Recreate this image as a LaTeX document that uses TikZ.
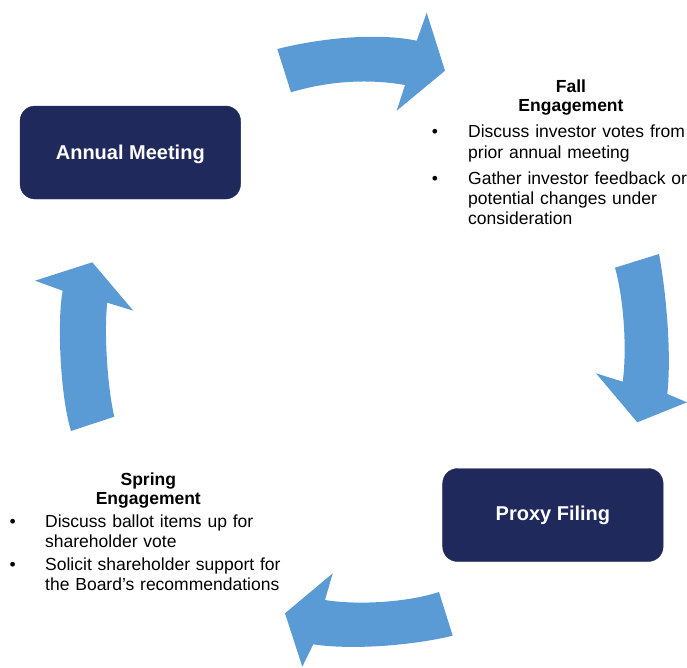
\documentclass[tikz,border=0pt]{standalone}
\usepackage{fontspec}
\setmainfont{Liberation Sans}
\definecolor{navy}{RGB}{31,41,91}
\definecolor{flowblue}{RGB}{91,155,213}
\begin{document}
\begin{tikzpicture}[x=1pt,y=-1pt,
  stage/.style={fill=navy,draw=navy,rounded corners=15pt,minimum width=220.5pt,
    minimum height=93pt,text=white,font=\fontsize{20}{24}\selectfont\bfseries,inner sep=0pt},
  flow/.style={fill=flowblue,draw=none},
  heading/.style={font=\fontsize{17.5}{19.6}\selectfont\bfseries,text width=200pt,
    align=center,inner sep=0pt,anchor=base},
  item/.style={font=\fontsize{17.5}{20.4}\selectfont,text width=240pt,align=left,
    inner sep=0pt,anchor=base west},
  dot/.style={font=\fontsize{17.5}{20.4}\selectfont,inner sep=0pt,anchor=base}]
\useasboundingbox (0,0) rectangle (687,667);

% circular flow arrows
\fill[flow] (277.3,49) .. controls (325,37) and (380,33) .. (416.7,40.7)
  -- (426.7,12.7) -- (445,70.7) -- (396.7,110.7) -- (405,85)
  .. controls (365,78) and (325,82) .. (291,92.3) -- cycle;
\fill[flow] (615,267.7) -- (659,254)
  .. controls (665,285) and (672,350) .. (667.3,394)
  -- (687,402.3) -- (637.3,422.3) -- (596,373.3) -- (622.7,381.7)
  .. controls (627,350) and (624,300) .. cycle;
\fill[flow] (439,592) -- (452.7,635.7)
  .. controls (410,646) and (350,650) .. (313.3,644.3)
  -- (302.3,666.7) -- (285,613.3) -- (332.7,573.3) -- (325,600)
  .. controls (355,605) and (405,603) .. cycle;
\fill[flow] (71,431) -- (114.3,416.7)
  .. controls (107,385) and (104,330) .. (107.3,302.7)
  -- (133.3,310.7) -- (92.3,262.3) -- (35,280.7) -- (62.7,290.7)
  .. controls (57,320) and (60,395) .. cycle;

% stages
\node[stage,text depth=0pt] (annual) at (130.3,152.5) {Annual Meeting};
\node[stage] (proxy) at (552.9,515) {Proxy Filing};

% fall engagement
\node[heading] (fallhead) at (571,92) {Fall\\Engagement};
\node[dot] (fallb1) at (435,137.7) {•};
\node[item] (falli1) at (468,137.7) {Discuss investor votes from\\prior annual meeting};
\node[dot] (fallb2) at (435,184) {•};
\node[item] (falli2) at (468,184) {Gather investor feedback or\\potential changes under\\consideration};

% spring engagement
\node[heading] (springhead) at (148.3,485) {Spring\\Engagement};
\node[dot] (springb1) at (12.7,527.3) {•};
\node[item] (springi1) at (45,527.3) {Discuss ballot items up for\\shareholder vote};
\node[dot] (springb2) at (12.7,570) {•};
\node[item] (springi2) at (45,570) {Solicit shareholder support for\\the Board’s recommendations};
\end{tikzpicture}
\end{document}
